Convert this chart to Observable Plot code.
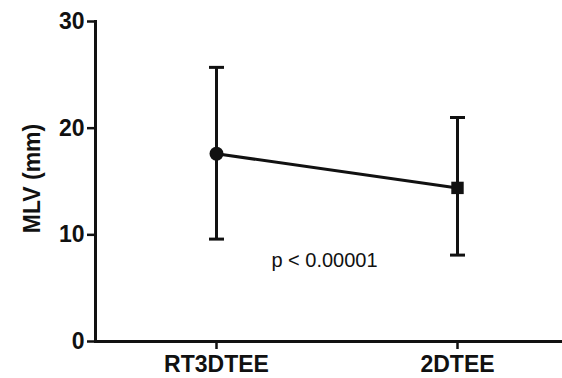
<!DOCTYPE html>
<html>
<head>
<meta charset="utf-8">
<script src="https://cdn.jsdelivr.net/npm/d3@7"></script>
<script src="https://cdn.jsdelivr.net/npm/@observablehq/plot@0.6"></script>
<style>
  html, body { margin: 0; padding: 0; background: #fff; }
  svg { display: block; }
</style>
</head>
<body>
<div id="chart"></div>
<script>
const categories = ["RT3DTEE", "2DTEE"];
const means = [17.6, 14.4];
const lows = [9.6, 8.1];
const highs = [25.7, 21.0];
const symbols = ["circle", "square"];
const yTicks = [0, 10, 20, 30];
const yLabel = "MLV (mm)";
const pText = "p < 0.00001";
const pY = 7.6;

const data = categories.map((c, i) => ({cat: c, mean: means[i], lo: lows[i], hi: highs[i], sym: symbols[i]}));

const capSymbol = {
  draw(context, size) {
    const r = Math.sqrt(size / Math.PI);
    context.moveTo(-r, 0);
    context.lineTo(r, 0);
  }
};

const font = "'Liberation Sans', Arial, Helvetica, sans-serif";

const chart = Plot.plot({
  width: 562,
  height: 378,
  marginLeft: 95,
  marginRight: 0,
  marginTop: 21,
  marginBottom: 37,
  style: {fontFamily: font, background: "#fff", color: "#111"},
  x: {type: "point", domain: categories, range: [216, 457], padding: 0, align: 0.5},
  y: {domain: [0, 30], range: [341, 21]},
  symbol: {domain: symbols, range: symbols},
  marks: [
    Plot.axisY({ticks: yTicks, tickSize: 8, tickPadding: 3, fontSize: 23, fontWeight: "bold", strokeWidth: 2.5, label: null}),
    Plot.axisX({tickSize: 8, tickPadding: 6, fontSize: 23, fontWeight: "bold", strokeWidth: 2.5, label: null}),
    Plot.frame({anchor: "left", stroke: "#111", strokeWidth: 3}),
    Plot.ruleY([0], {stroke: "#111", strokeWidth: 3}),
    Plot.ruleX(data, {x: "cat", y1: "lo", y2: "hi", stroke: "#111", strokeWidth: 3}),
    Plot.dot(data, {x: "cat", y: "lo", symbol: capSymbol, r: 7.5, stroke: "#111", strokeWidth: 3, fill: "none"}),
    Plot.dot(data, {x: "cat", y: "hi", symbol: capSymbol, r: 7.5, stroke: "#111", strokeWidth: 3, fill: "none"}),
    Plot.line(data, {x: "cat", y: "mean", stroke: "#111", strokeWidth: 3}),
    Plot.dot(data, {x: "cat", y: "mean", symbol: "sym", r: 7, fill: "#111", stroke: "none"}),
    Plot.text([pText], {text: d => d, y: () => pY, frameAnchor: "left", textAnchor: "middle", dx: 229, fontSize: 20, fill: "#111", fontFamily: font}),
    Plot.text([yLabel], {text: d => d, frameAnchor: "left", textAnchor: "middle", dx: -63, dy: -3, rotate: -90, fontSize: 23, fontWeight: "bold", fill: "#111", fontFamily: font})
  ]
});

document.getElementById("chart").appendChild(chart);
</script>
</body>
</html>
